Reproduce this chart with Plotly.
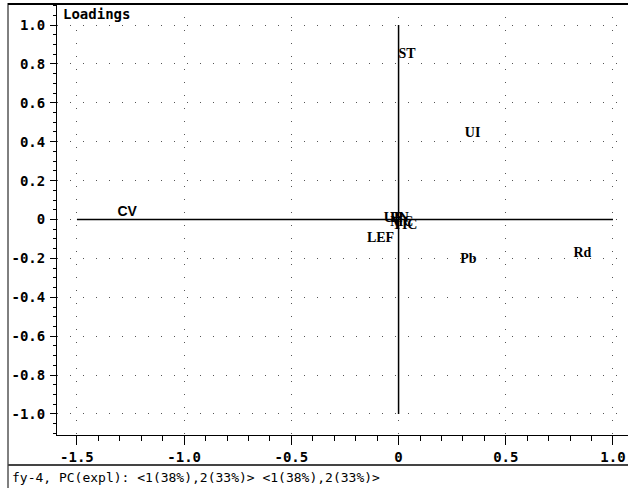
import plotly.graph_objects as go

# Data: loadings (PC1, PC2)
labels = ["ST", "UI", "Pb", "Rd", "CV", "LEF", "UP", "PN", "TIC", "MC"]
pc1 = [0.04, 0.345, 0.326, 0.857, -1.266, -0.084, -0.025, 0.005, 0.03, 0.015]
pc2 = [0.85, 0.44, -0.206, -0.175, 0.036, -0.098, 0.005, 0.005, -0.03, -0.015]
label_fonts = ["Liberation Serif"] * 4 + ["Liberation Sans"] + ["Liberation Serif"] * 5

x_ticks = [-1.5, -1.0, -0.5, 0, 0.5, 1.0]
x_ticktext = ["-1.5", "-1.0", "-0.5", "0", "0.5", "1.0"]
y_ticks = [1.0, 0.8, 0.6, 0.4, 0.2, 0, -0.2, -0.4, -0.6, -0.8, -1.0]
y_ticktext = ["1.0", "0.8", "0.6", "0.4", "0.2", "0", "-0.2", "-0.4", "-0.6", "-0.8", "-1.0"]

title_text = "Loadings"
footer_text = "fy-4, PC(expl): <1(38%),2(33%)> <1(38%),2(33%)>"

W, H = 628, 488
L, R, T, B = 57, 0, 4, 53
pw, ph = W - L - R, H - T - B

def px_x(px):
    return (px - L) / pw

def px_y(py):
    return (H - B - py) / ph

mono = "DejaVu Sans Mono"

fig = go.Figure()
fig.add_trace(go.Scatter(
    x=pc1, y=pc2, mode="text", text=labels,
    textposition="middle center",
    textfont=dict(family=label_fonts, size=14, color="black", weight="bold"),
    hoverinfo="skip", showlegend=False,
))

grid = dict(showgrid=True, gridcolor="#555555", gridwidth=1, griddash="1px,12px")

fig.update_layout(
    width=W, height=H,
    margin=dict(l=L, r=R, t=T, b=B, pad=0, autoexpand=False),
    plot_bgcolor="white", paper_bgcolor="white",
    xaxis=dict(
        range=[-1.593, 1.07], tickvals=x_ticks, ticktext=x_ticktext,
        ticks="outside", ticklen=9, tickwidth=1, tickcolor="black",
        minor=dict(dtick=0.1, tick0=0, ticks="outside", ticklen=5, tickcolor="black", showgrid=False),
        showline=True, linecolor="black", linewidth=1, automargin=False,
        tickfont=dict(family=mono, size=14, color="black", weight="bold"),
        zeroline=False, **grid,
    ),
    yaxis=dict(
        range=[-1.108, 1.108], tickvals=y_ticks, ticktext=y_ticktext,
        ticks="outside", ticklen=6, tickwidth=1, tickcolor="black",
        minor=dict(dtick=0.05, tick0=0, ticks="outside", ticklen=3, tickcolor="black", showgrid=False),
        showline=True, linecolor="black", linewidth=1, automargin=False,
        tickfont=dict(family=mono, size=14, color="black", weight="bold"),
        zeroline=False, ticklabelstandoff=2, **grid,
    ),
    shapes=[
        # axes through origin
        dict(type="line", xref="x", yref="y", x0=0, x1=0, y0=-1.0, y1=1.0,
             line=dict(color="black", width=1.5)),
        dict(type="line", xref="x", yref="y", x0=-1.5, x1=1.0, y0=0, y1=0,
             line=dict(color="black", width=1.5)),
        # outer frame
        dict(type="line", xref="paper", yref="paper", x0=px_x(8), x1=px_x(628), y0=px_y(4), y1=px_y(4),
             line=dict(color="black", width=2)),
        dict(type="line", xref="paper", yref="paper", x0=px_x(8), x1=px_x(8), y0=px_y(3), y1=px_y(488),
             line=dict(color="black", width=1)),
        dict(type="line", xref="paper", yref="paper", x0=px_x(8), x1=px_x(628), y0=px_y(465), y1=px_y(465),
             line=dict(color="#444444", width=2)),
    ],
    annotations=[
        dict(text=title_text, xref="paper", yref="paper", x=px_x(61), y=px_y(4),
             xanchor="left", yanchor="top", showarrow=False,
             font=dict(family=mono, size=14, color="black", weight="bold")),
        dict(text=footer_text, xref="paper", yref="paper", x=px_x(10), y=px_y(477),
             xanchor="left", yanchor="middle", showarrow=False,
             font=dict(family=mono, size=13, color="black")),
    ],
)

fig.write_html("out.html", config={"displayModeBar": False},
               post_script="document.body.style.margin='0px';")
